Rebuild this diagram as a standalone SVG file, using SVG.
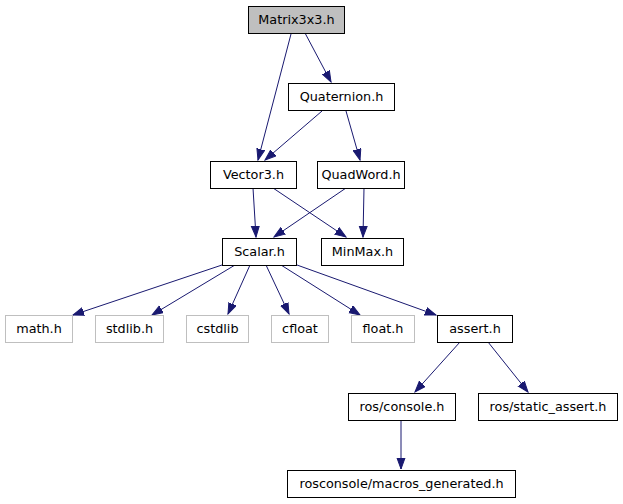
<svg xmlns="http://www.w3.org/2000/svg" width="623" height="504" viewBox="0 0 623 504">
<style>
.n rect{fill:#fff;stroke:#000;stroke-width:1}
.g rect{fill:#fff;stroke:#bfbfbf;stroke-width:1}
.root rect{fill:#bfbfbf;stroke:#000}
text{font-family:"DejaVu Sans",sans-serif;font-size:12.8px;text-anchor:middle;fill:#000}
.e path{fill:none;stroke:#191970;stroke-width:1;marker-end:url(#ah)}
</style>
<defs>
<marker id="ah" markerUnits="userSpaceOnUse" markerWidth="13" markerHeight="10" refX="11" refY="4.5" orient="auto">
<path d="M0,0.5 L11,4.5 L0,8.5 z" fill="#191970" stroke="#191970" stroke-width="1"/>
</marker>
</defs>
<rect width="623" height="504" fill="#fff"/>
<g id="edges" class="e">
<path d="M305,33 L331,82"/>
<path d="M291,34 L258,160"/>
<path d="M322,111 L265,160"/>
<path d="M346,111 L360,160"/>
<path d="M253,188 L256,237"/>
<path d="M273,188 L346,237"/>
<path d="M346,188 L274,237"/>
<path d="M364,188 L363,237"/>
<path d="M222,265 L73,315"/>
<path d="M235,265 L152,315"/>
<path d="M250,265 L228,314"/>
<path d="M266,265 L289,314"/>
<path d="M281,265 L360,315"/>
<path d="M297,265 L436,315"/>
<path d="M460,342 L415,392"/>
<path d="M488,342 L528,392"/>
<path d="M401,420 L401,469"/>
</g>
<g id="n_matrix3x3" class="n root"><rect x="248.5" y="6.5" width="96" height="27"/><text x="296.5" y="24">Matrix3x3.h</text></g>
<g id="n_quaternion" class="n"><rect x="288.5" y="83.5" width="106" height="27"/><text x="341.5" y="101">Quaternion.h</text></g>
<g id="n_vector3" class="n"><rect x="210.5" y="161.5" width="86" height="27"/><text x="253.5" y="179">Vector3.h</text></g>
<g id="n_quadword" class="n"><rect x="317.5" y="161.5" width="87" height="27"/><text x="361" y="179">QuadWord.h</text></g>
<g id="n_scalar" class="n"><rect x="222.5" y="238.5" width="74" height="27"/><text x="259.5" y="256">Scalar.h</text></g>
<g id="n_minmax" class="n"><rect x="321.5" y="238.5" width="82" height="27"/><text x="362.5" y="256">MinMax.h</text></g>
<g id="n_math" class="g"><rect x="5.5" y="315.5" width="67" height="27"/><text x="39" y="333">math.h</text></g>
<g id="n_stdlib" class="g"><rect x="95.5" y="315.5" width="68" height="27"/><text x="129.5" y="333">stdlib.h</text></g>
<g id="n_cstdlib" class="g"><rect x="186.5" y="315.5" width="62" height="27"/><text x="217.5" y="333">cstdlib</text></g>
<g id="n_cfloat" class="g"><rect x="271.5" y="315.5" width="57" height="27"/><text x="300" y="333">cfloat</text></g>
<g id="n_float" class="g"><rect x="351.5" y="315.5" width="63" height="27"/><text x="383" y="333">float.h</text></g>
<g id="n_assert" class="n"><rect x="437.5" y="315.5" width="75" height="27"/><text x="475" y="333">assert.h</text></g>
<g id="n_console" class="n"><rect x="348.5" y="393.5" width="107" height="27"/><text x="402" y="411">ros/console.h</text></g>
<g id="n_static_assert" class="n"><rect x="478.5" y="393.5" width="139" height="27"/><text x="548" y="411">ros/static_assert.h</text></g>
<g id="n_macros" class="n"><rect x="287.5" y="470.5" width="228" height="27"/><text x="401.5" y="488">rosconsole/macros_generated.h</text></g>
</svg>
